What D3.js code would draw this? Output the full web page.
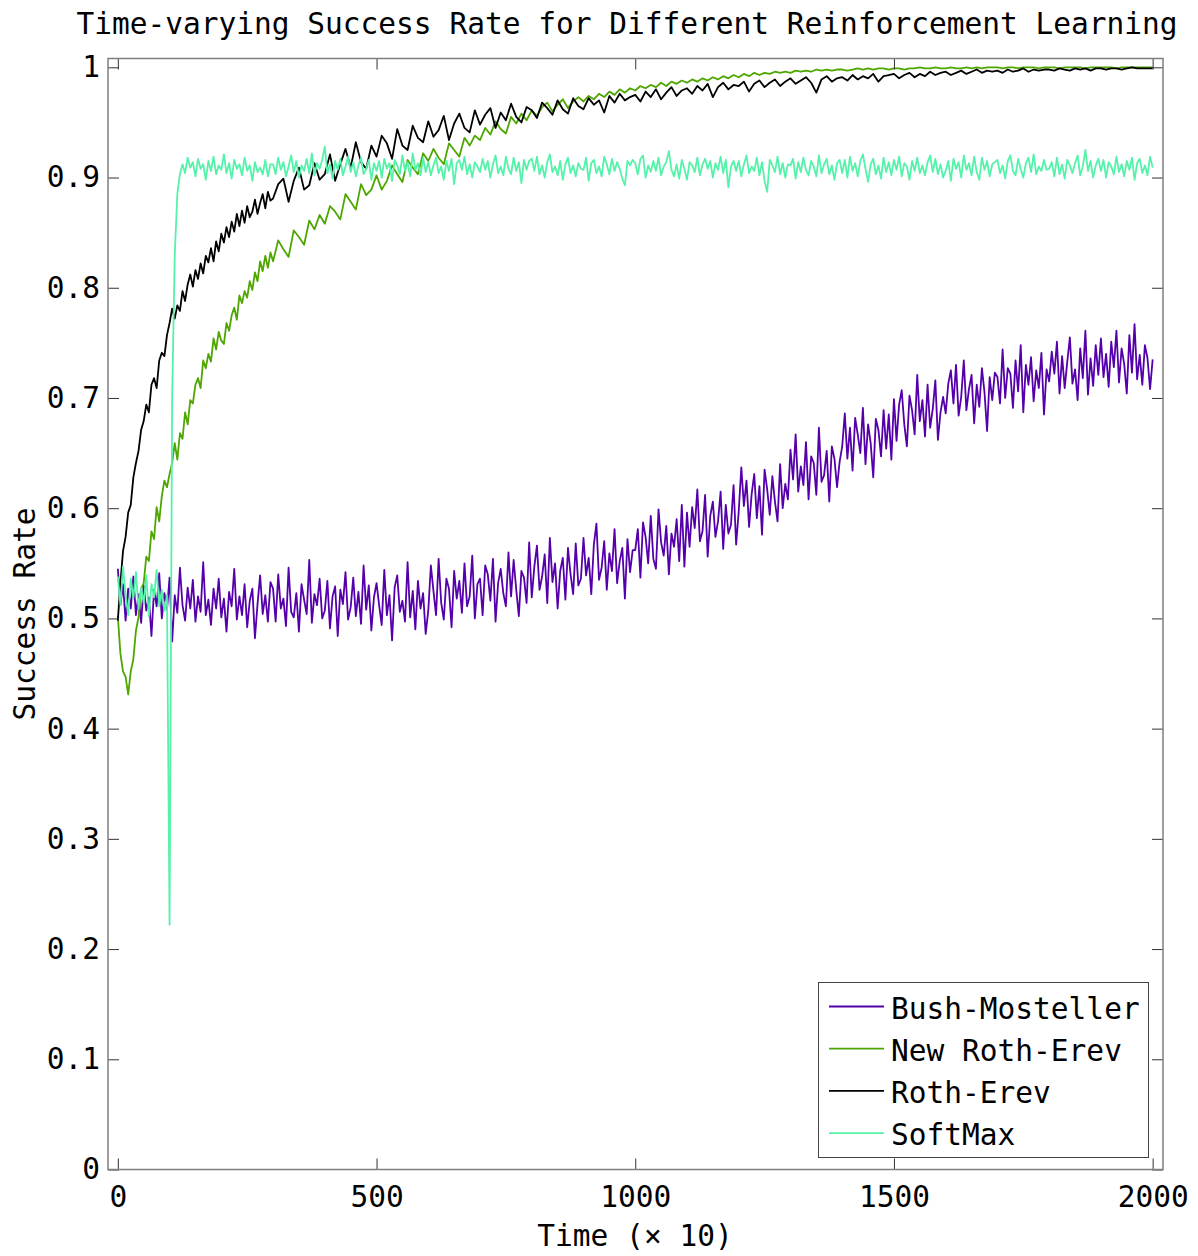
<!DOCTYPE html>
<html>
<head>
<meta charset="utf-8">
<script src="https://cdn.jsdelivr.net/npm/d3@7"></script>
<style>
  body { margin: 0; background: #fff; }
  svg text { font-family: 'DejaVu Sans Mono', monospace; fill: #000; }
</style>
</head>
<body>
<div id="chart"></div>
<script>
// two time grids: every 5 for the very noisy series, and 5-then-10 for the smoother ones
var timesFine = d3.range(0, 2001, 5);
var timesMixed = d3.range(0, 300, 5).concat(d3.range(300, 2001, 10));

var seriesNames = ['Bush-Mosteller', 'New Roth-Erev', 'Roth-Erev', 'SoftMax'];
var seriesColors = ['#5500aa', '#4ea600', '#000000', '#55f2aa'];
var xTicks = [0, 500, 1000, 1500, 2000];
var yTicks = [0, 0.1, 0.2, 0.3, 0.4, 0.5, 0.6, 0.7, 0.8, 0.9, 1];

// timesFine
var bushMosteller = [
  0.545, 0.512, 0.531, 0.498, 0.527, 0.509, 0.538, 0.503, 0.522, 0.496,
  0.530, 0.507, 0.519, 0.484, 0.526, 0.511, 0.541, 0.500, 0.523, 0.508,
  0.537, 0.479, 0.521, 0.505, 0.546, 0.512, 0.498, 0.528, 0.509, 0.535,
  0.497, 0.520, 0.506, 0.551, 0.503, 0.517, 0.494, 0.527, 0.509, 0.536,
  0.501, 0.518, 0.488, 0.524, 0.511, 0.545, 0.499, 0.520, 0.503, 0.531,
  0.492, 0.516, 0.527, 0.482, 0.513, 0.539, 0.504, 0.521, 0.497, 0.533,
  0.527, 0.497, 0.540, 0.509, 0.518, 0.493, 0.546, 0.506, 0.501, 0.523, 0.488, 0.531, 0.517, 0.504, 0.553, 0.496, 0.522, 0.512, 0.536, 0.500,
  0.507, 0.534, 0.491, 0.520, 0.529, 0.484, 0.526, 0.513, 0.542, 0.499, 0.510, 0.537, 0.502, 0.524, 0.495, 0.548, 0.508, 0.530, 0.489, 0.519,
  0.532, 0.512, 0.494, 0.544, 0.503, 0.521, 0.480, 0.528, 0.539, 0.506, 0.516, 0.497, 0.551, 0.501, 0.525, 0.490, 0.534, 0.509, 0.523, 0.486,
  0.507, 0.548, 0.525, 0.503, 0.554, 0.514, 0.499, 0.536, 0.527, 0.492, 0.543, 0.518, 0.534, 0.505, 0.550, 0.511, 0.520, 0.557, 0.500, 0.531,
  0.536, 0.503, 0.548, 0.540, 0.516, 0.554, 0.497, 0.532, 0.545, 0.523, 0.511, 0.560, 0.520, 0.553, 0.526, 0.502, 0.543, 0.537, 0.514, 0.569,
  0.519, 0.547, 0.566, 0.526, 0.538, 0.558, 0.514, 0.573, 0.533, 0.550, 0.509, 0.543, 0.555, 0.517, 0.564, 0.540, 0.522, 0.568, 0.530, 0.536,
  0.573, 0.539, 0.555, 0.522, 0.567, 0.586, 0.535, 0.546, 0.570, 0.526, 0.559, 0.543, 0.581, 0.532, 0.552, 0.564, 0.518, 0.572, 0.542, 0.562,
  0.562, 0.581, 0.537, 0.587, 0.574, 0.550, 0.593, 0.554, 0.545, 0.599, 0.569, 0.557, 0.584, 0.540, 0.577, 0.565, 0.590, 0.552, 0.603, 0.547,
  0.596, 0.565, 0.601, 0.582, 0.617, 0.570, 0.579, 0.612, 0.556, 0.593, 0.606, 0.574, 0.588, 0.615, 0.563, 0.603, 0.577, 0.585, 0.621, 0.567,
  0.597, 0.637, 0.602, 0.625, 0.583, 0.613, 0.631, 0.591, 0.620, 0.576, 0.635, 0.617, 0.594, 0.629, 0.606, 0.588, 0.640, 0.600, 0.622, 0.608,
  0.653, 0.626, 0.667, 0.615, 0.638, 0.621, 0.660, 0.608, 0.647, 0.641, 0.612, 0.673, 0.624, 0.630, 0.652, 0.606, 0.656, 0.645, 0.619, 0.642,
  0.656, 0.686, 0.645, 0.673, 0.634, 0.682, 0.667, 0.650, 0.691, 0.640, 0.676, 0.659, 0.628, 0.681, 0.671, 0.647, 0.689, 0.654, 0.685, 0.644,
  0.699, 0.661, 0.694, 0.707, 0.676, 0.656, 0.702, 0.689, 0.667, 0.721, 0.679, 0.698, 0.665, 0.712, 0.673, 0.690, 0.716, 0.662, 0.687, 0.701,
  0.686, 0.713, 0.725, 0.695, 0.730, 0.684, 0.701, 0.734, 0.689, 0.708, 0.721, 0.677, 0.712, 0.692, 0.727, 0.705, 0.670, 0.719, 0.698, 0.723,
  0.719, 0.695, 0.744, 0.700, 0.727, 0.722, 0.691, 0.734, 0.706, 0.748, 0.687, 0.730, 0.712, 0.737, 0.697, 0.725, 0.709, 0.741, 0.685, 0.726,
  0.715, 0.742, 0.722, 0.751, 0.704, 0.738, 0.709, 0.733, 0.755, 0.713, 0.726, 0.698, 0.745, 0.718, 0.761, 0.703, 0.736, 0.711, 0.748, 0.721,
  0.754, 0.719, 0.740, 0.710, 0.751, 0.728, 0.761, 0.714, 0.745, 0.731, 0.704, 0.757, 0.723, 0.767, 0.717, 0.739, 0.712, 0.748, 0.736, 0.708,
  0.735
];

// timesMixed
var newRothErev = [
  0.502, 0.468, 0.452, 0.447, 0.431, 0.452, 0.463, 0.489, 0.501, 0.527,
  0.532, 0.556, 0.552, 0.579, 0.572, 0.601, 0.588, 0.611, 0.625, 0.619,
  0.631, 0.641, 0.659, 0.644, 0.668, 0.663, 0.687, 0.676, 0.698, 0.695,
  0.712, 0.718, 0.709, 0.734, 0.727, 0.740, 0.733, 0.754, 0.744, 0.760,
  0.752, 0.749, 0.768, 0.761, 0.775, 0.782, 0.771, 0.793, 0.786, 0.797,
  0.791, 0.806, 0.798, 0.814, 0.806, 0.824, 0.815, 0.829, 0.818, 0.832,
  0.824, 0.843, 0.835, 0.828, 0.852, 0.846, 0.839, 0.861, 0.853, 0.866,
  0.858, 0.874, 0.869, 0.862, 0.885, 0.878, 0.871, 0.894, 0.884, 0.889,
  0.902, 0.889, 0.897, 0.911, 0.903, 0.896, 0.916, 0.909, 0.903, 0.922,
  0.915, 0.926, 0.918, 0.912, 0.931, 0.925, 0.919, 0.936, 0.929, 0.938,
  0.934, 0.945, 0.939, 0.951, 0.944, 0.940, 0.955, 0.949, 0.958, 0.952,
  0.961, 0.956, 0.964, 0.968, 0.960, 0.966, 0.971, 0.963, 0.969, 0.973,
  0.969, 0.974, 0.971, 0.976, 0.973, 0.978, 0.975, 0.980, 0.977, 0.981,
  0.979, 0.983, 0.981, 0.984, 0.982, 0.986, 0.983, 0.987, 0.985, 0.988,
  0.986, 0.989, 0.987, 0.990, 0.988, 0.991, 0.989, 0.992, 0.990, 0.993,
  0.991, 0.994, 0.992, 0.995, 0.993, 0.995, 0.994, 0.996, 0.995, 0.996,
  0.995, 0.997, 0.996, 0.997, 0.996, 0.998, 0.997, 0.998, 0.997, 0.998,
  0.998, 0.997, 0.998, 0.999, 0.998, 0.999, 0.998, 0.999, 0.999, 0.998,
  0.999, 0.999, 0.998, 0.999, 0.999, 1.000, 0.999, 0.999, 1.000, 0.999,
  0.999, 1.000, 0.999, 0.999, 1.000, 0.999, 1.000, 0.999, 1.000, 1.000,
  1.000, 0.999, 1.000, 1.000, 0.999, 1.000, 1.000, 1.000, 0.999, 1.000,
  1.000, 1.000, 0.999, 1.000, 1.000, 1.000, 1.000, 0.999, 1.000, 1.000,
  1.000, 1.000, 1.000, 0.999, 1.000, 1.000, 1.000, 1.000, 1.000, 1.000,
  1.000
];

// timesMixed
var rothErev = [
  0.498, 0.532, 0.561, 0.574, 0.596, 0.603, 0.628, 0.641, 0.652, 0.671,
  0.679, 0.694, 0.687, 0.712, 0.718, 0.709, 0.734, 0.741, 0.738, 0.757,
  0.768, 0.781, 0.772, 0.784, 0.779, 0.797, 0.788, 0.803, 0.812, 0.801,
  0.816, 0.808, 0.822, 0.813, 0.829, 0.823, 0.836, 0.824, 0.842, 0.833,
  0.849, 0.841, 0.855, 0.846, 0.860, 0.851, 0.867, 0.856, 0.870, 0.859,
  0.874, 0.864, 0.869, 0.880, 0.867, 0.877, 0.885, 0.872, 0.887, 0.879,
  0.881, 0.894, 0.899, 0.878, 0.897, 0.909, 0.889, 0.893, 0.913, 0.898,
  0.903, 0.921, 0.897, 0.912, 0.926, 0.909, 0.932, 0.914, 0.908, 0.929,
  0.919, 0.938, 0.931, 0.917, 0.944, 0.929, 0.925, 0.947, 0.936, 0.932,
  0.951, 0.937, 0.943, 0.956, 0.934, 0.949, 0.958, 0.945, 0.941, 0.961,
  0.948, 0.957, 0.963, 0.945, 0.959, 0.952, 0.967, 0.955, 0.950, 0.964,
  0.961, 0.954, 0.968, 0.963, 0.957, 0.970, 0.962, 0.958, 0.972, 0.965,
  0.962, 0.972, 0.966, 0.970, 0.959, 0.974, 0.968, 0.976, 0.970, 0.973,
  0.975, 0.969, 0.978, 0.973, 0.980, 0.971, 0.977, 0.982, 0.974, 0.979,
  0.981, 0.976, 0.983, 0.979, 0.985, 0.973, 0.982, 0.986, 0.980, 0.984,
  0.983, 0.987, 0.978, 0.985, 0.988, 0.982, 0.986, 0.989, 0.983, 0.987,
  0.990, 0.985, 0.988, 0.991, 0.986, 0.977, 0.989, 0.992, 0.987, 0.990,
  0.991, 0.988, 0.993, 0.989, 0.992, 0.990, 0.994, 0.987, 0.992, 0.993,
  0.994, 0.990, 0.993, 0.995, 0.991, 0.994, 0.992, 0.996, 0.993, 0.995,
  0.996, 0.993, 0.995, 0.997, 0.994, 0.996, 0.998, 0.995, 0.997, 0.996,
  0.997, 0.995, 0.998, 0.996, 0.997, 0.999, 0.996, 0.998, 0.997, 0.998,
  0.998, 0.997, 0.999, 0.998, 0.997, 0.999, 0.998, 0.999, 0.997, 0.999,
  0.999, 0.998, 0.999, 0.999, 0.998, 0.999, 1.000, 0.999, 0.999, 0.999,
  0.999
];

// timesFine
var softMax = [
  0.538, 0.512, 0.547, 0.521, 0.503, 0.536, 0.518, 0.542, 0.509, 0.528,
  0.514, 0.539, 0.502, 0.531, 0.519, 0.544, 0.511, 0.526, 0.507, 0.521,
  0.222, 0.700, 0.830, 0.885, 0.903, 0.912, 0.904, 0.918, 0.909, 0.914,
  0.901, 0.917, 0.908, 0.912, 0.898, 0.915, 0.906, 0.919, 0.903, 0.911,
  0.907, 0.921, 0.904, 0.913, 0.899, 0.916, 0.908, 0.912, 0.902, 0.918,
  0.906, 0.911, 0.897, 0.914, 0.905, 0.909, 0.903, 0.916, 0.901, 0.912,
  0.912, 0.903, 0.918, 0.907, 0.914, 0.901, 0.910, 0.920, 0.905, 0.915, 0.900, 0.911, 0.906, 0.917, 0.904, 0.922, 0.902, 0.913, 0.908, 0.916,
  0.928, 0.904, 0.912, 0.899, 0.915, 0.907, 0.917, 0.902, 0.910, 0.919, 0.905, 0.914, 0.901, 0.911, 0.918, 0.903, 0.908, 0.916, 0.898, 0.913,
  0.906, 0.915, 0.900, 0.917, 0.908, 0.913, 0.897, 0.916, 0.911, 0.903, 0.920, 0.906, 0.914, 0.901, 0.922, 0.907, 0.913, 0.902, 0.918, 0.905,
  0.914, 0.902, 0.911, 0.918, 0.904, 0.910, 0.898, 0.915, 0.906, 0.917, 0.894, 0.913, 0.916, 0.907, 0.919, 0.903, 0.912, 0.900, 0.914, 0.910,
  0.905, 0.917, 0.907, 0.915, 0.900, 0.912, 0.920, 0.904, 0.910, 0.902, 0.919, 0.908, 0.903, 0.918, 0.906, 0.914, 0.895, 0.916, 0.907, 0.915,
  0.917, 0.906, 0.919, 0.903, 0.911, 0.900, 0.914, 0.921, 0.905, 0.910, 0.902, 0.915, 0.898, 0.912, 0.918, 0.904, 0.911, 0.901, 0.913, 0.908,
  0.907, 0.918, 0.897, 0.913, 0.916, 0.904, 0.910, 0.901, 0.919, 0.912, 0.903, 0.917, 0.906, 0.914, 0.908, 0.899, 0.893, 0.915, 0.911, 0.916,
  0.913, 0.903, 0.917, 0.920, 0.900, 0.911, 0.905, 0.915, 0.906, 0.918, 0.902, 0.910, 0.914, 0.924, 0.907, 0.901, 0.912, 0.899, 0.916, 0.908,
  0.898, 0.914, 0.911, 0.905, 0.918, 0.902, 0.912, 0.917, 0.908, 0.915, 0.900, 0.913, 0.907, 0.919, 0.904, 0.916, 0.891, 0.910, 0.915, 0.906,
  0.915, 0.901, 0.912, 0.920, 0.904, 0.910, 0.906, 0.918, 0.902, 0.914, 0.897, 0.887, 0.916, 0.911, 0.905, 0.919, 0.903, 0.913, 0.900, 0.912,
  0.911, 0.917, 0.899, 0.914, 0.905, 0.918, 0.907, 0.902, 0.915, 0.910, 0.901, 0.920, 0.904, 0.912, 0.917, 0.903, 0.911, 0.898, 0.913, 0.916,
  0.904, 0.916, 0.900, 0.919, 0.906, 0.913, 0.901, 0.915, 0.921, 0.908, 0.896, 0.912, 0.917, 0.903, 0.911, 0.899, 0.918, 0.905, 0.914, 0.902,
  0.916, 0.907, 0.919, 0.901, 0.913, 0.910, 0.898, 0.915, 0.906, 0.918, 0.904, 0.911, 0.902, 0.914, 0.920, 0.905, 0.917, 0.903, 0.912, 0.900,
  0.906, 0.915, 0.897, 0.917, 0.908, 0.914, 0.900, 0.920, 0.907, 0.913, 0.902, 0.919, 0.905, 0.898, 0.918, 0.907, 0.915, 0.901, 0.912, 0.914,
  0.916, 0.904, 0.911, 0.899, 0.915, 0.920, 0.906, 0.902, 0.917, 0.908, 0.900, 0.913, 0.918, 0.905, 0.921, 0.903, 0.910, 0.906, 0.916, 0.907,
  0.908, 0.914, 0.901, 0.918, 0.903, 0.912, 0.899, 0.916, 0.911, 0.904, 0.913, 0.920, 0.902, 0.910, 0.925, 0.906, 0.915, 0.900, 0.911, 0.917,
  0.906, 0.916, 0.900, 0.914, 0.910, 0.903, 0.919, 0.905, 0.912, 0.901, 0.915, 0.907, 0.918, 0.898, 0.913, 0.917, 0.904, 0.911, 0.902, 0.919,
  0.909
];

(function () {
  var width = 1198;
  var height = 1256;
  var box = { left: 108, right: 1163, top: 58.5, bottom: 1169.5 };
  var fontSize = 29.5;
  var tickLen = 11;

  var allSeries = [
    { values: bushMosteller, times: timesFine },
    { values: newRothErev, times: timesMixed },
    { values: rothErev, times: timesMixed },
    { values: softMax, times: timesFine }
  ];

  var svg = d3.select('#chart')
    .append('svg')
    .attr('width', width)
    .attr('height', height);

  var xScale = d3.scaleLinear().domain([-19, 2020]).range([box.left, box.right]);
  var yScale = d3.scaleLinear().domain([0, 1.008]).range([box.bottom, box.top]);

  // lines, drawn in legend order so SoftMax ends up on top
  var line = d3.line()
    .x(function (d) { return xScale(d[0]); })
    .y(function (d) { return yScale(d[1]); });

  svg.append('clipPath').attr('id', 'plot-clip')
    .append('rect')
    .attr('x', box.left).attr('y', box.top)
    .attr('width', box.right - box.left).attr('height', box.bottom - box.top);

  var plot = svg.append('g').attr('clip-path', 'url(#plot-clip)');
  allSeries.forEach(function (s, i) {
    var pts = s.times.map(function (t, k) { return [t, s.values[k]]; })
      .filter(function (d) { return d[1] != null; });
    plot.append('path')
      .attr('d', line(pts))
      .attr('fill', 'none')
      .attr('stroke', seriesColors[i])
      .attr('stroke-width', 1.8)
      .attr('stroke-linejoin', 'round');
  });

  // axes with inward ticks on all four sides
  var xAxis = svg.append('g')
    .attr('transform', 'translate(0,' + box.bottom + ')')
    .call(d3.axisBottom(xScale).tickValues(xTicks).tickSize(-tickLen).tickPadding(17)
      .tickFormat(d3.format('d')));
  var xTop = svg.append('g')
    .attr('transform', 'translate(0,' + box.top + ')')
    .call(d3.axisTop(xScale).tickValues(xTicks).tickSize(-tickLen).tickFormat(''));
  var yAxis = svg.append('g')
    .attr('transform', 'translate(' + box.left + ',0)')
    .call(d3.axisLeft(yScale).tickValues(yTicks).tickSize(-tickLen).tickPadding(8)
      .tickFormat(function (d) { return d === 0 || d === 1 ? String(d) : d3.format('.1f')(d); }));
  var yRight = svg.append('g')
    .attr('transform', 'translate(' + box.right + ',0)')
    .call(d3.axisRight(yScale).tickValues(yTicks).tickSize(-tickLen).tickFormat(''));

  [xAxis, xTop, yAxis, yRight].forEach(function (g) {
    g.select('.domain').remove();
    g.selectAll('.tick line').attr('stroke', '#333').attr('stroke-width', 1);
    g.selectAll('text')
      .attr('font-family', "'DejaVu Sans Mono', monospace")
      .attr('font-size', fontSize)
      .attr('fill', '#000');
  });

  svg.append('rect')
    .attr('x', box.left)
    .attr('y', box.top)
    .attr('width', box.right - box.left)
    .attr('height', box.bottom - box.top)
    .attr('fill', 'none')
    .attr('stroke', '#7f7f7f')
    .attr('stroke-width', 1.5);

  // title and axis labels
  svg.append('text')
    .attr('x', 627)
    .attr('y', 34)
    .attr('text-anchor', 'middle')
    .attr('font-size', fontSize)
    .text('Time-varying Success Rate for Different Reinforcement Learning');

  svg.append('text')
    .attr('x', 635)
    .attr('y', 1246)
    .attr('text-anchor', 'middle')
    .attr('font-size', fontSize)
    .text('Time (\u00d7 10)');

  svg.append('text')
    .attr('transform', 'translate(35,614) rotate(-90)')
    .attr('text-anchor', 'middle')
    .attr('font-size', fontSize)
    .text('Success Rate');

  // legend
  var legend = svg.append('g');
  legend.append('rect')
    .attr('x', 818.5)
    .attr('y', 982.5)
    .attr('width', 330)
    .attr('height', 175)
    .attr('fill', '#fff')
    .attr('stroke', '#444')
    .attr('stroke-width', 1);

  seriesNames.forEach(function (name, i) {
    var ly = 1006.5 + i * 42.2;
    legend.append('line')
      .attr('x1', 829).attr('x2', 884)
      .attr('y1', ly).attr('y2', ly)
      .attr('stroke', seriesColors[i])
      .attr('stroke-width', 1.8);
    legend.append('text')
      .attr('x', 891)
      .attr('y', ly + 12)
      .attr('font-size', fontSize)
      .text(name);
  });
})();
</script>
</body>
</html>
